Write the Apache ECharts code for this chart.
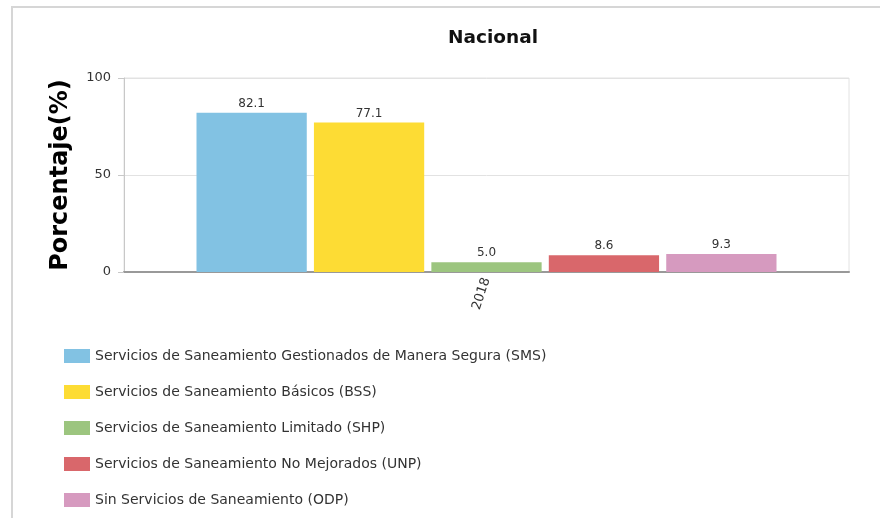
<!DOCTYPE html>
<html>
<head>
<meta charset="utf-8">
<script src="https://cdn.jsdelivr.net/npm/echarts@6/dist/echarts.min.js"></script>
<style>
html,body{margin:0;padding:0;background:#fff;}
#frame{position:absolute;left:11px;top:6px;width:869px;height:512px;border-left:2px solid #d6d6d6;border-top:2px solid #d6d6d6;box-sizing:border-box;}
#chart{position:absolute;left:0;top:0;width:880px;height:518px;}
</style>
</head>
<body>
<div id="frame"></div>
<div id="chart"></div>
<script>
const categories = ['2018'];
const seriesNames = [
  'Servicios de Saneamiento Gestionados de Manera Segura (SMS)',
  'Servicios de Saneamiento Básicos (BSS)',
  'Servicios de Saneamiento Limitado (SHP)',
  'Servicios de Saneamiento No Mejorados (UNP)',
  'Sin Servicios de Saneamiento (ODP)'
];
const smsValues = [82.1];
const bssValues = [77.1];
const shpValues = [5.0];
const unpValues = [8.6];
const odpValues = [9.3];
const yTicks = [0, 50, 100];
const colors = ['#82c2e3', '#fddc34', '#9cc57f', '#d9676b', '#d69abf'];

const allValues = [smsValues, bssValues, shpValues, unpValues, odpValues];
const font = '"DejaVu Sans", Verdana, sans-serif';

const series = allValues.map((vals, i) => ({
  name: seriesNames[i],
  type: 'bar',
  data: vals,
  barCategoryGap: '20%',
  barGap: '6.5%',
  itemStyle: { color: colors[i] },
  label: {
    show: true, position: 'top', distance: 3,
    formatter: p => p.value.toFixed(1),
    fontFamily: font, fontSize: 12, color: '#333'
  }
}));

const chart = echarts.init(document.getElementById('chart'), null, {renderer: 'canvas'});
chart.setOption({
  animation: false,
  backgroundColor: 'transparent',
  title: {
    text: 'Nacional', left: 488, top: 24, textAlign: 'center',
    textStyle: { fontFamily: font, fontWeight: 'bold', fontSize: 18.5, color: '#111' }
  },
  grid: {
    left: 124, right: 31, top: 78, bottom: 246,
    show: true, borderColor: '#e2e2e2', borderWidth: 1
  },
  legend: {
    orient: 'vertical', left: 59, top: 344,
    itemWidth: 26, itemHeight: 14, itemGap: 22,
    icon: 'rect',
    textStyle: { fontFamily: font, fontSize: 14, color: '#333' },
    data: seriesNames
  },
  xAxis: {
    type: 'category', data: categories,
    axisLine: { lineStyle: { color: '#999', width: 2 } },
    axisTick: { alignWithLabel: true, length: 5, lineStyle: { color: '#999' } },
    axisLabel: { rotate: 72, fontFamily: font, fontSize: 13, color: '#333', margin: 6 }
  },
  yAxis: {
    type: 'value', min: yTicks[0], max: yTicks[yTicks.length - 1], interval: 50,
    name: 'Porcentaje(%)', nameLocation: 'middle', nameGap: 51,
    nameTextStyle: { fontFamily: font, fontWeight: 'bold', fontSize: 24, color: '#000' },
    axisLine: { show: true, lineStyle: { color: '#c8c8c8' } },
    axisTick: { show: true, length: 6, lineStyle: { color: '#c8c8c8' } },
    axisLabel: { fontFamily: font, fontSize: 13, color: '#333', margin: 13 },
    splitLine: { lineStyle: { color: '#e2e2e2' } }
  },
  series: series
});
</script>
</body>
</html>
